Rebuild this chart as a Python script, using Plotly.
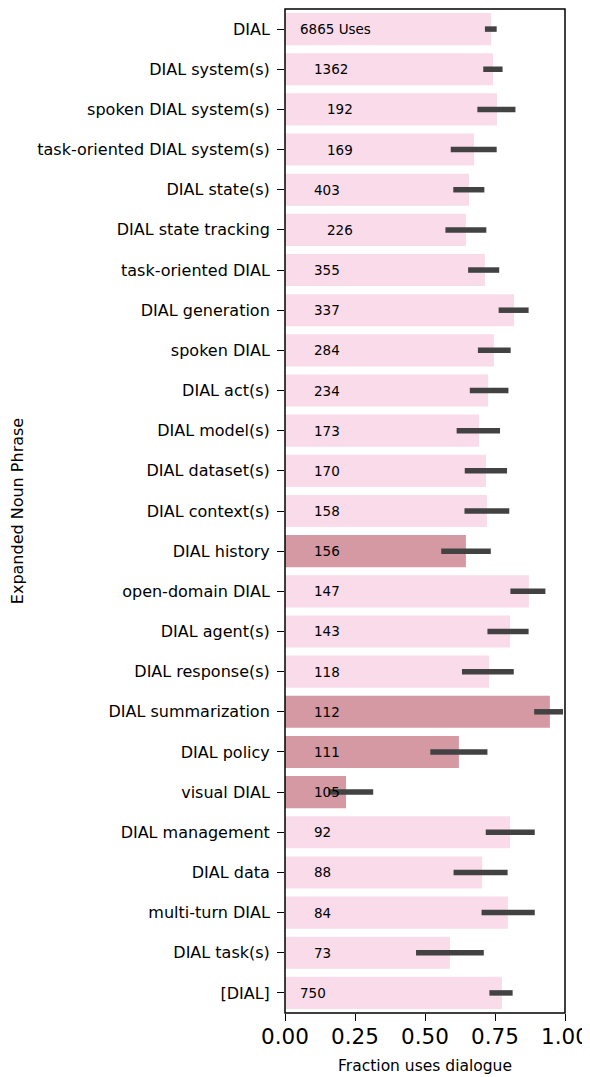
import plotly.graph_objects as go

categories = ["DIAL", "DIAL system(s)", "spoken DIAL system(s)", "task-oriented DIAL system(s)",
              "DIAL state(s)", "DIAL state tracking", "task-oriented DIAL", "DIAL generation",
              "spoken DIAL", "DIAL act(s)", "DIAL model(s)", "DIAL dataset(s)", "DIAL context(s)",
              "DIAL history", "open-domain DIAL", "DIAL agent(s)", "DIAL response(s)",
              "DIAL summarization", "DIAL policy", "visual DIAL", "DIAL management", "DIAL data",
              "multi-turn DIAL", "DIAL task(s)", "[DIAL]"]
fraction = [0.736, 0.743, 0.757, 0.675, 0.657, 0.646, 0.714, 0.818, 0.746, 0.725, 0.693, 0.718,
            0.721, 0.646, 0.871, 0.804, 0.729, 0.946, 0.621, 0.218, 0.804, 0.704, 0.796, 0.589, 0.775]
ci_low = [0.714, 0.708, 0.687, 0.592, 0.601, 0.573, 0.654, 0.763, 0.689, 0.660, 0.613, 0.642,
          0.641, 0.558, 0.805, 0.723, 0.632, 0.890, 0.519, 0.155, 0.717, 0.602, 0.702, 0.468, 0.730]
ci_high = [0.756, 0.777, 0.823, 0.756, 0.712, 0.719, 0.765, 0.870, 0.806, 0.798, 0.768, 0.793,
           0.801, 0.735, 0.930, 0.870, 0.817, 0.993, 0.723, 0.315, 0.892, 0.795, 0.892, 0.710, 0.813]
uses = ["6865 Uses", "1362", "192", "169", "403", "226", "355", "337", "284", "234", "173", "170",
        "158", "156", "147", "143", "118", "112", "111", "105", "92", "88", "84", "73", "750"]
highlighted = ["DIAL history", "DIAL summarization", "DIAL policy", "visual DIAL"]

LIGHT = "#f9dbea"
DARK = "#d499a2"
colors = [DARK if c in highlighted else LIGHT for c in categories]
label_x = [0.045 if u in ("6865 Uses", "750") else (0.143 if u in ("192", "169", "226") else 0.096)
           for u in uses]

# The page body has an 8px margin, so the figure is sized 8px smaller to fit the window.
fig = go.Figure()
fig.add_trace(go.Bar(
    y=categories, x=fraction, orientation="h", width=0.8,
    marker=dict(color=colors, line=dict(width=0)),
    error_x=dict(type="data", symmetric=False,
                 array=[h - v for h, v in zip(ci_high, fraction)],
                 arrayminus=[v - l for l, v in zip(ci_low, fraction)],
                 color="#424242", thickness=5.5, width=0),
    showlegend=False, hoverinfo="skip",
))

for c, u, lx in zip(categories, uses, label_x):
    fig.add_annotation(x=lx, y=c, text=u, showarrow=False, xanchor="left", yanchor="middle",
                       font=dict(family="DejaVu Sans", size=13.5, color="black"))

# axes frame
fig.add_shape(type="rect", xref="paper", yref="paper", x0=0, x1=1, y0=0, y1=1,
              line=dict(color="black", width=1.5), fillcolor="rgba(0,0,0,0)", layer="above")

fig.update_layout(
    width=582, height=1069,
    margin=dict(l=277, r=25, t=1, b=64, pad=0),
    plot_bgcolor="white", paper_bgcolor="white",
    font=dict(family="DejaVu Sans", color="black"),
    bargap=0.2,
)
fig.update_xaxes(
    range=[0, 1], tickvals=[0, 0.25, 0.5, 0.75, 1.0], ticktext=["0.00", "0.25", "0.50", "0.75", "1.00"],
    tickfont=dict(size=21.5), ticks="outside", ticklen=7, tickwidth=1.3, tickcolor="black",
    ticklabelstandoff=-3,
    showline=False, showgrid=False, zeroline=False,
    title=dict(text="Fraction uses dialogue", font=dict(size=15.5), standoff=12),
    automargin=False,
)
fig.update_yaxes(
    categoryorder="array", categoryarray=categories, autorange="reversed",
    tickfont=dict(size=16), ticks="outside", ticklen=7, tickwidth=1.3, tickcolor="black",
    ticklabelstandoff=4,
    showline=False, showgrid=False,
    title=dict(text="Expanded Noun Phrase", font=dict(size=16), standoff=14),
    automargin=False,
)

fig.write_html("out.html")
